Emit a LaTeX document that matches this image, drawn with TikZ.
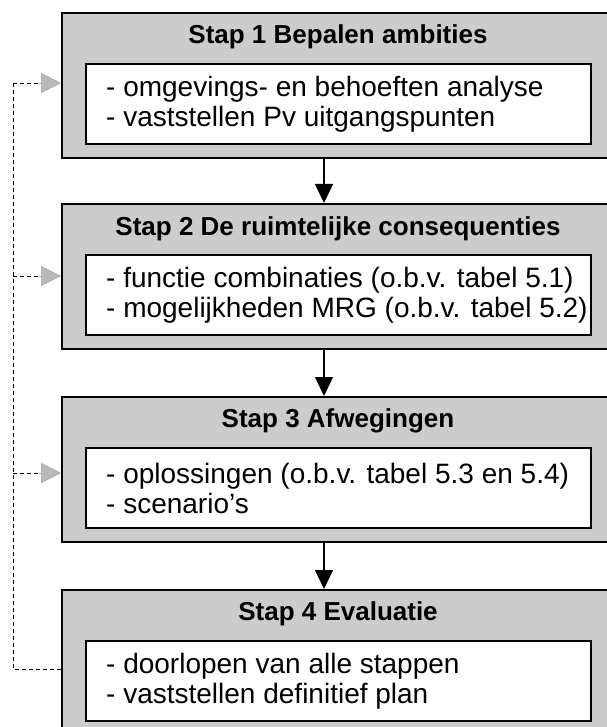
\documentclass[tikz,border=0pt]{standalone}
\usepackage{fontspec}
\setmainfont{Liberation Sans}
\usetikzlibrary{arrows.meta,positioning}
\tikzset{
  stapbox/.style   = {draw, line width=2pt, fill=gray!40, anchor=north west,
                      minimum width=562pt, minimum height=145pt, inner sep=0pt},
  inhoud/.style    = {draw, line width=2.4pt, fill=white, anchor=north west,
                      minimum width=505pt, minimum height=80pt, inner sep=0pt},
  titel/.style     = {font=\fontsize{26}{30}\selectfont\bfseries, inner sep=0pt},
  tekst/.style     = {font=\fontsize{28}{30}\selectfont, align=left, inner sep=0pt, anchor=west},
  flow/.style      = {line width=1.4pt, -{Triangle[width=18pt,length=19pt]}},
  terug/.style     = {line width=0.8pt, dash pattern=on 4pt off 3pt},
  grijspijl/.style = {line width=0.5pt, draw=gray!70, -{Triangle[width=20pt,length=20pt,fill=gray!55]}},
}

\begin{document}
\begin{tikzpicture}[x=1pt, y=-1pt]
  \useasboundingbox (0,0) rectangle (606,727);
  % de vier stappen
  \node[stapbox] (stap1) at (61,12)  {};
  \node[stapbox] (stap2) at (61,203) {};
  \node[stapbox] (stap3) at (61,396) {};
  \node[stapbox] (stap4) at (61,589) {};
  \node[inhoud] (inh1) at (85,63)  {};
  \node[inhoud] (inh2) at (85,254) {};
  \node[inhoud] (inh3) at (85,447) {};
  \node[inhoud] (inh4) at (85,640) {};
  \node[titel] (titel1) at (338,37)  {Stap 1 Bepalen ambities};
  \node[titel] (titel2) at (338,229) {Stap 2 De ruimtelijke consequenties};
  \node[titel] (titel3) at (338,421) {Stap 3 Afwegingen};
  \node[titel] (titel4) at (338,614) {Stap 4 Evaluatie};
  \node[tekst, right=21pt of inh1.west] (tekst1) {- omgevings- en behoeften analyse\\- vaststellen Pv uitgangspunten};
  \node[tekst, right=21pt of inh2.west] (tekst2) {- functie combinaties (o.b.v. tabel 5.1)\\- mogelijkheden MRG (o.b.v. tabel 5.2)};
  \node[tekst, right=21pt of inh3.west] (tekst3) {- oplossingen (o.b.v. tabel 5.3 en 5.4)\\- scenario’s};
  \node[tekst, right=21pt of inh4.west] (tekst4) {- doorlopen van alle stappen\\- vaststellen definitief plan};
  % pijlen tussen de stappen
  \coordinate (as) at (324,0);
  \draw[flow] (stap1.south -| as) -- (stap2.north -| as);
  \draw[flow] (stap2.south -| as) -- (stap3.north -| as);
  \draw[flow] (stap3.south -| as) -- (stap4.north -| as);
  % terugkoppeling
  \coordinate (terug) at (13,83);
  \coordinate (eind) at (13,669);
  \draw[terug] (terug) -- (eind) -- (eind -| stap4.west);
  \foreach \i/\y in {1/83, 2/276, 3/473} {
    \coordinate (p\i) at (39,\y);
    \draw[terug] (13,\y) -- (p\i);
    \draw[grijspijl] (p\i) -- (p\i -| stap\i.west);
  }
\end{tikzpicture}
\end{document}
